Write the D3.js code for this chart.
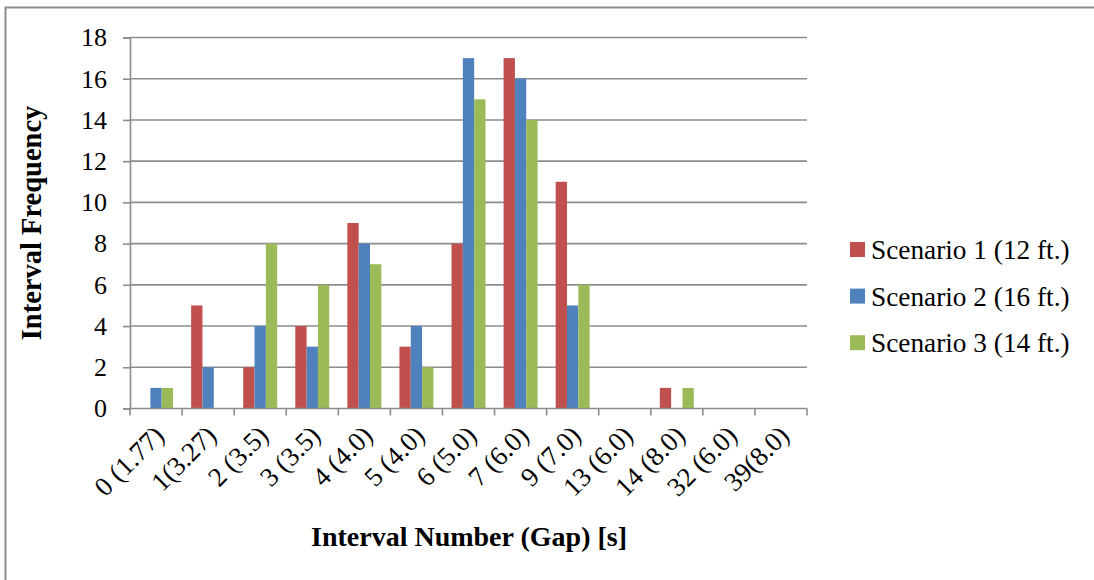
<!DOCTYPE html>
<html>
<head>
<meta charset="utf-8">
<script src="https://cdn.jsdelivr.net/npm/d3@7/dist/d3.min.js"></script>
<style>
  html, body { margin: 0; padding: 0; background: #fff; }
  svg { display: block; }
  text { font-family: "Liberation Serif", "Times New Roman", serif; fill: #000; }
</style>
</head>
<body>
<svg id="chart" width="1094" height="580"></svg>
<script>
// Interval frequency per gap interval for three scenarios
const categories = ["0 (1.77)", "1(3.27)", "2 (3.5)", "3 (3.5)", "4 (4.0)", "5 (4.0)",
  "6 (5.0)", "7 (6.0)", "9 (7.0)", "13 (6.0)", "14 (8.0)", "32 (6.0)", "39(8.0)"];
const seriesNames = ["Scenario 1 (12 ft.)", "Scenario 2 (16 ft.)", "Scenario 3 (14 ft.)"];
const scenario1 = [0, 5, 2, 4, 9, 3, 8, 17, 11, 0, 1, 0, 0];
const scenario2 = [1, 2, 4, 3, 8, 4, 17, 16, 5, 0, 0, 0, 0];
const scenario3 = [1, 0, 8, 6, 7, 2, 15, 14, 6, 0, 1, 0, 0];
const yTicks = [0, 2, 4, 6, 8, 10, 12, 14, 16, 18];
const colors = ["#C0504D", "#4F81BD", "#9BBB59"];
const seriesValues = [scenario1, scenario2, scenario3];

const svg = d3.select("#chart");
const gridColor = "#8c8c8c";

// Outer chart frame
svg.append("rect")
  .attr("x", 5.5).attr("y", 7.5)
  .attr("width", 1200).attr("height", 700)
  .attr("fill", "none").attr("stroke", gridColor).attr("stroke-width", 2);

const plot = { left: 130, right: 807, top: 37.5, bottom: 408.5 };

const x = d3.scaleBand().domain(categories).range([plot.left, plot.right]).paddingInner(0).paddingOuter(0);
const xs = d3.scaleBand().domain(d3.range(3)).range([0, x.bandwidth()]).paddingInner(0).paddingOuter(0.8);
const y = d3.scaleLinear().domain([0, 18]).range([plot.bottom, plot.top]);

// Horizontal gridlines
svg.append("g").selectAll("line").data(yTicks.filter(d => d > 0)).join("line")
  .attr("x1", plot.left).attr("x2", plot.right)
  .attr("y1", d => y(d)).attr("y2", d => y(d))
  .attr("stroke", gridColor).attr("stroke-width", 1.6);

// Bars
const rows = categories.map((c, i) => ({ cat: c, vals: seriesValues.map(s => s[i]) }));
const groups = svg.append("g").selectAll("g").data(rows).join("g")
  .attr("transform", d => `translate(${x(d.cat)},0)`);
groups.selectAll("rect").data(d => d.vals.map((v, k) => ({ v, k }))).join("rect")
  .attr("x", d => xs(d.k))
  .attr("width", xs.bandwidth())
  .attr("y", d => y(d.v))
  .attr("height", d => y(0) - y(d.v))
  .attr("fill", d => colors[d.k]);

// Y axis
const yAxis = svg.append("g")
  .attr("transform", `translate(${plot.left},0)`)
  .call(d3.axisLeft(y).tickValues(yTicks).tickSize(7).tickPadding(16).tickFormat(d3.format("d")));
yAxis.select(".domain").attr("stroke", gridColor).attr("stroke-width", 1.6);
yAxis.selectAll(".tick line").attr("stroke", gridColor).attr("stroke-width", 1.6);
yAxis.selectAll(".tick text").attr("font-size", 26).attr("font-family", "Liberation Serif").attr("fill", "#000");

// X axis with boundary ticks
const xAxisG = svg.append("g").attr("transform", `translate(0,${plot.bottom})`);
xAxisG.append("line").attr("x1", plot.left).attr("x2", plot.right)
  .attr("stroke", gridColor).attr("stroke-width", 1.6);
const bounds = categories.map(c => x(c)).concat([plot.right]);
xAxisG.selectAll("line.tk").data(bounds).join("line").attr("class", "tk")
  .attr("x1", d => d).attr("x2", d => d).attr("y1", 0).attr("y2", 7)
  .attr("stroke", gridColor).attr("stroke-width", 1.6);
xAxisG.selectAll("text").data(categories).join("text")
  .attr("transform", d => `translate(${x(d) + x.bandwidth() / 2 + 3},${22}) rotate(-45)`)
  .attr("text-anchor", "end")
  .attr("dy", "0.35em")
  .attr("font-size", 27)
  .text(d => d);

// Axis titles
svg.append("text")
  .attr("transform", `translate(41,${(plot.top + plot.bottom) / 2}) rotate(-90)`)
  .attr("text-anchor", "middle")
  .attr("font-size", 28.5).attr("font-weight", "bold")
  .text("Interval Frequency");
svg.append("text")
  .attr("x", 469).attr("y", 546)
  .attr("text-anchor", "middle")
  .attr("font-size", 28).attr("font-weight", "bold")
  .text("Interval Number (Gap) [s]");

// Legend
const legend = svg.append("g").selectAll("g").data(seriesNames).join("g")
  .attr("transform", (d, i) => `translate(850,${249.5 + i * 46.6})`);
legend.append("rect").attr("x", 0).attr("y", -7.5).attr("width", 15).attr("height", 15)
  .attr("fill", (d, i) => colors[i]);
legend.append("text").attr("x", 21).attr("dy", "0.35em").attr("font-size", 27.3).text(d => d);
</script>
</body>
</html>
